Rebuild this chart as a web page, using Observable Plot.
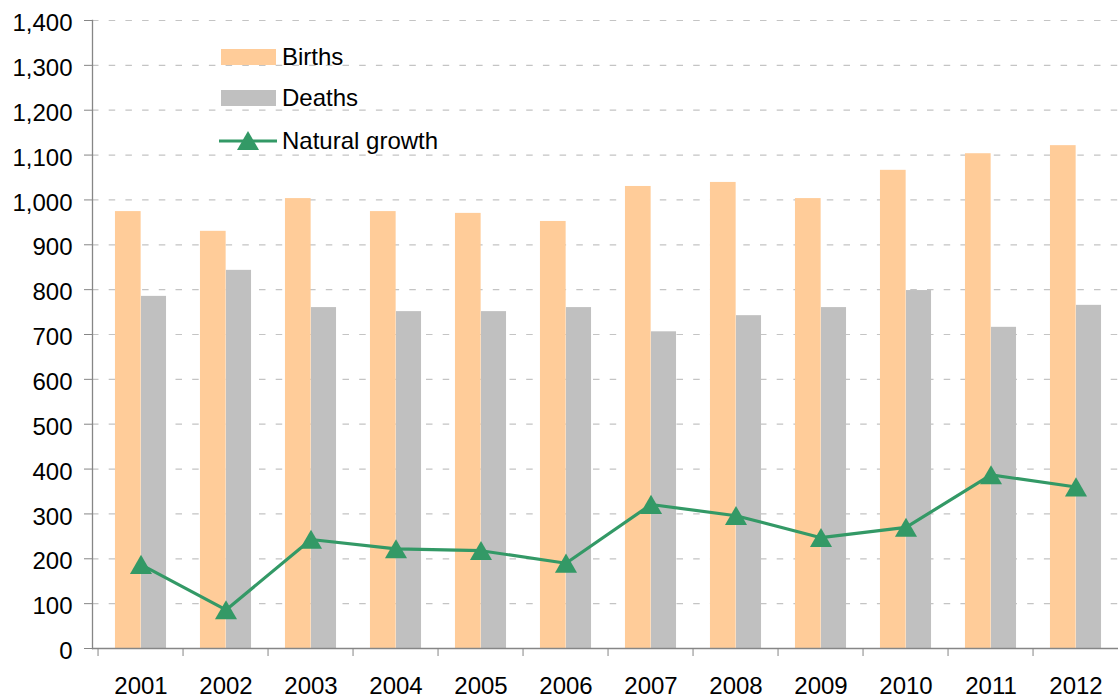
<!DOCTYPE html>
<html>
<head>
<meta charset="utf-8">
<script src="https://cdn.jsdelivr.net/npm/d3@7"></script>
<script src="https://cdn.jsdelivr.net/npm/@observablehq/plot@0.6"></script>
<style>
  html, body { margin: 0; padding: 0; background: #fff; overflow: hidden; }
  #wrap { position: relative; width: 1118px; height: 700px; overflow: hidden; font-family: "Liberation Sans", Arial, sans-serif; }
  .lg { position: absolute; font-size: 24px; line-height: 28px; height: 28px; color: #000; white-space: nowrap; }
  .sw { position: absolute; }
</style>
</head>
<body>
<div id="wrap"></div>
<script>
const years  = ["2001","2002","2003","2004","2005","2006","2007","2008","2009","2010","2011","2012"];
const births = [974, 930, 1003, 974, 970, 952, 1030, 1039, 1003, 1066, 1103, 1121];
const deaths = [785, 843, 760, 751, 751, 760, 706, 742, 760, 798, 716, 765];
const growth = [187, 86, 243, 222, 218, 190, 321, 296, 247, 270, 387, 360];
const yTicks = [0, 100, 200, 300, 400, 500, 600, 700, 800, 900, 1000, 1100, 1200, 1300, 1400];
const seriesNames = ["Births", "Deaths", "Natural growth"];
const colors = { births: "#FFCC99", deaths: "#C0C0C0", growth: "#339966" };

const data = years.map((year, i) => ({ year, births: births[i], deaths: deaths[i], growth: growth[i] }));

const W = 1118, H = 700, ML = 92, MR = -5, MT = 20, MB = 52;
const bw = (W - ML - MR) / years.length;
const barW = 26;
const pad = (bw - 2 * barW) / 2;

const chart = Plot.plot({
  width: W,
  height: H,
  marginLeft: ML,
  marginRight: MR,
  marginTop: MT,
  marginBottom: MB,
  style: { fontFamily: "Liberation Sans, Arial, sans-serif", fontSize: "24px", color: "#000", background: "#fff" },
  x: { type: "band", domain: years, padding: 0, label: null },
  y: { domain: [0, 1400], label: null },
  marks: [
    Plot.gridY(yTicks.filter(d => d > 0), { stroke: "#c4c4c4", strokeOpacity: 1, strokeWidth: 1.2, strokeDasharray: "6.5,10.2" }),
    Plot.barY(data, { x: "year", y: "births", fill: colors.births, insetLeft: pad, insetRight: bw - pad - barW - 0.6 }),
    Plot.barY(data, { x: "year", y: "deaths", fill: colors.deaths, insetLeft: pad + barW, insetRight: pad }),
    Plot.ruleY([0], { stroke: "#868686", strokeWidth: 1.3 }),
    Plot.frame({ anchor: "left", stroke: "#868686", strokeWidth: 1.3 }),
    Plot.axisY({ ticks: yTicks, tickSize: 8, tickFormat: () => "", stroke: "#868686" }),
    Plot.axisY({ ticks: yTicks, tickSize: 0, tickPadding: 20, dy: 3, tickFormat: d3.format(","), fill: "#000", fontSize: 24 }),
    Plot.axisX({ tickSize: 8, tickFormat: () => "", dx: -bw / 2, stroke: "#868686" }),
    Plot.axisX({ tickSize: 0, tickPadding: 28, fill: "#000", fontSize: 24 }),
    Plot.line(data, { x: "year", y: "growth", stroke: colors.growth, strokeWidth: 3.2 }),
    Plot.dot(data, { x: "year", y: "growth", symbol: "triangle", r: 8.2, fill: colors.growth, stroke: "none", dy: 3 })
  ]
});

const wrap = document.getElementById("wrap");
wrap.appendChild(chart);

// Legend (inside the plot area, top-left)
function addText(txt, left, cy) {
  const d = document.createElement("div");
  d.className = "lg";
  d.style.left = left + "px";
  d.style.top = (cy - 14) + "px";
  d.textContent = txt;
  wrap.appendChild(d);
}
function addSvg(left, top, w, h, inner) {
  const s = document.createElementNS("http://www.w3.org/2000/svg", "svg");
  s.setAttribute("width", w); s.setAttribute("height", h);
  s.setAttribute("class", "sw");
  s.style.left = left + "px"; s.style.top = top + "px";
  s.innerHTML = inner;
  wrap.appendChild(s);
}
addSvg(221, 49, 55, 16, `<rect width="55" height="16" fill="${colors.births}"/>`);
addText(seriesNames[0], 282, 57);
addSvg(221, 90, 55, 16, `<rect width="55" height="16" fill="${colors.deaths}"/>`);
addText(seriesNames[1], 282, 98);
addSvg(219, 130, 60, 22, `<line x1="0" y1="11" x2="58" y2="11" stroke="${colors.growth}" stroke-width="3.2"/><path d="M29,1 L40,20 L18,20 Z" fill="${colors.growth}"/>`);
addText(seriesNames[2], 282, 141);
</script>
</body>
</html>
